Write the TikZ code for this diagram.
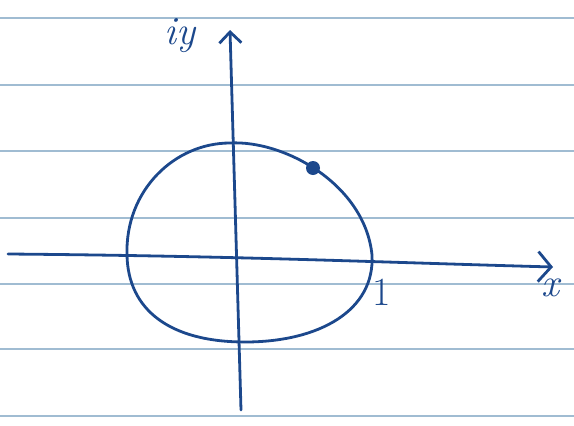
\documentclass[tikz,border=0pt]{standalone}
\usepackage{fontspec}
\usetikzlibrary{arrows.meta}
\definecolor{inkblue}{RGB}{28,72,140}
\definecolor{ruled}{RGB}{160,188,210}
\tikzset{
  pen/.style={draw=inkblue, line width=2.8pt, line cap=round, line join=round},
  linka/.style={draw=ruled, line width=2pt},
  hand/.style={text=inkblue, font=\fontsize{40}{40}\selectfont\itshape}
}
\begin{document}
\begin{tikzpicture}[x=1pt,y=-1pt]
        \useasboundingbox (0,0) rectangle (574,426);
        % linky papiru
        \foreach \r in {18,85,151,218,284,349,416}
            \draw[linka] (0,\r) -- (574,\r);

        % osy
        \coordinate (xs) at (8,254);
        \coordinate (xe) at (553,267);
        \coordinate (ys) at (241,410);
        \coordinate (ye) at (230,30);
        \draw[pen, -{Straight Barb[length=13pt,width=30pt,line width=2.8pt]}]
            (xs) .. controls (240,256) and (370,262) .. (xe);
        \draw[pen, -{Straight Barb[length=11pt,width=22pt,line width=2.8pt]}]
            (ys) -- (ye);

        % kruznice
        \draw[pen] (127,255) .. controls (125,190) and (175,143) .. (230,143)
            .. controls (285,140) and (365,185) .. (372,255)
            .. controls (375,310) and (320,342) .. (245,342)
            .. controls (170,342) and (128,310) .. (127,255) -- cycle;

        % bod
        \node[circle, fill=inkblue, inner sep=0pt, minimum size=14pt] (P) at (313,168) {};

        % popisky
        \node[hand] (iy) at (180,36) {iy};
        \node[hand, font=\fontsize{40}{40}\selectfont\upshape] (one) at (382,292) {1};
        \node[hand] (xl) at (550,288) {x};
\end{tikzpicture}
\end{document}
